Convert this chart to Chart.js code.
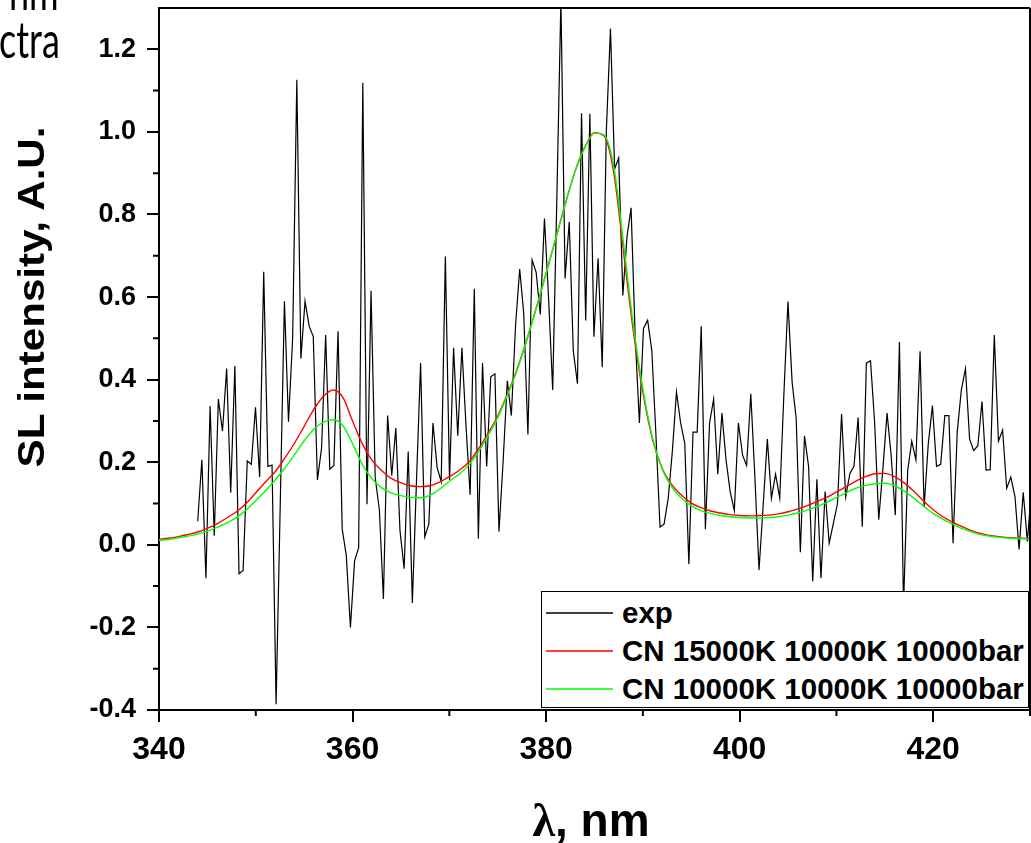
<!DOCTYPE html>
<html><head><meta charset="utf-8">
<script src="https://cdn.jsdelivr.net/npm/chart.js@4.4.1/dist/chart.umd.min.js"></script>
<style>
html,body{margin:0;padding:0;background:#fff;}
#wrap{position:relative;width:1031px;height:843px;overflow:hidden;background:#fff;}
#c{position:absolute;left:0;top:0;}
.t{position:absolute;white-space:nowrap;color:#000;line-height:1;}
.b{font-family:"Liberation Sans",Arial,sans-serif;font-weight:bold;}
#ytitle{left:32px;top:297px;font-size:36px;transform:translate(-50%,-50%) rotate(-90deg) scaleX(1.17);}
#xtitle{left:591px;top:820px;font-size:46px;transform:translate(-50%,-50%);}
#xtitle .lam{font-family:"Liberation Serif","DejaVu Serif",serif;font-weight:bold;}
.side{font-family:Lato,"Open Sans",sans-serif;font-size:50px;transform-origin:0 0;transform:scaleX(0.72);}
#legend{position:absolute;left:541px;top:591px;width:488px;height:117px;border:1px solid #000;background:#fff;box-sizing:border-box;}
#legend svg{position:absolute;left:0;top:0;}
.tx{position:absolute;left:80px;font-size:29.5px;font-family:"Liberation Sans",Arial,sans-serif;font-weight:bold;line-height:1;transform:translateY(-52%);white-space:nowrap;}
</style></head><body>
<div id="wrap">
<canvas id="c" width="1031" height="843"></canvas>
<div class="t side" style="left:9px;top:-34px;">nm</div>
<div class="t side" style="left:-1px;top:14px;">ctra</div>
<div id="ytitle" class="t b">SL intensity, A.U.</div>
<div id="xtitle" class="t b"><span class="lam">λ</span>, nm</div>
<div id="legend"></div>
</div>
<script>
// ---- data ----
const expX = [344.00,344.43,344.85,345.28,345.71,346.13,346.56,346.99,347.41,347.84,348.27,348.69,349.12,349.54,349.97,350.40,350.82,351.25,351.68,352.10,352.53,352.96,353.38,353.81,354.24,354.66,355.09,355.52,355.94,356.37,356.80,357.22,357.65,358.07,358.50,358.93,359.35,359.78,360.21,360.63,361.06,361.49,361.91,362.34,362.77,363.19,363.62,364.05,364.47,364.90,365.33,365.75,366.18,366.60,367.03,367.46,367.88,368.31,368.74,369.16,369.59,370.02,370.44,370.87,371.30,371.72,372.15,372.58,373.00,373.43,373.86,374.28,374.71,375.13,375.56,375.99,376.41,376.84,377.27,377.69,378.12,378.55,378.97,379.40,379.83,380.25,380.68,381.11,381.53,381.96,382.39,382.81,383.24,383.66,384.09,384.52,384.94,385.37,385.80,386.22,386.65,387.08,387.50,387.93,388.36,388.78,389.21,389.64,390.06,390.49,390.92,391.34,391.77,392.19,392.62,393.05,393.47,393.90,394.33,394.75,395.18,395.61,396.03,396.46,396.89,397.31,397.74,398.17,398.59,399.02,399.45,399.87,400.30,400.72,401.15,401.58,402.00,402.43,402.86,403.28,403.71,404.14,404.56,404.99,405.42,405.84,406.27,406.70,407.12,407.55,407.98,408.40,408.83,409.25,409.68,410.11,410.53,410.96,411.39,411.81,412.24,412.67,413.09,413.52,413.95,414.37,414.80,415.23,415.65,416.08,416.51,416.93,417.36,417.78,418.21,418.64,419.06,419.49,419.92,420.34,420.77,421.20,421.62,422.05,422.48,422.90,423.33,423.76,424.18,424.61,425.04,425.46,425.89,426.31,426.74,427.17,427.59,428.02,428.45,428.87,429.30,429.73,430.15];
const expY = [0.057,0.206,-0.081,0.336,0.022,0.353,0.275,0.427,0.126,0.433,-0.070,-0.062,0.203,0.195,0.333,0.164,0.661,0.190,0.193,-0.386,0.100,0.590,0.298,0.500,1.126,0.451,0.590,0.529,0.505,0.157,0.234,0.508,0.183,0.192,0.517,0.038,-0.025,-0.200,-0.039,-0.007,1.119,0.098,0.615,0.163,0.085,-0.131,0.313,0.168,0.283,0.035,-0.058,0.226,-0.141,0.150,0.440,0.019,0.050,0.295,0.187,0.153,0.698,0.157,0.477,0.264,0.477,0.289,0.121,0.620,0.015,0.440,0.190,0.407,0.414,0.032,0.203,0.397,0.313,0.530,0.668,0.560,0.267,0.690,0.660,0.558,0.790,0.600,0.375,0.840,1.320,0.645,0.782,0.469,0.390,1.045,0.543,1.044,0.504,0.694,0.430,1.000,1.250,0.910,0.937,0.604,0.747,0.816,0.500,0.295,0.524,0.544,0.471,0.270,0.043,0.050,0.113,0.228,0.370,0.295,0.245,-0.047,0.273,0.273,0.529,0.038,0.295,0.353,0.171,0.319,0.206,0.129,0.083,0.295,0.217,0.192,0.366,0.160,-0.061,0.096,0.256,0.113,0.171,0.113,0.360,0.589,0.394,0.306,-0.018,0.264,0.190,-0.088,0.159,-0.081,0.129,0.004,0.052,0.100,0.317,0.116,0.173,0.190,0.308,0.044,0.440,0.446,0.295,0.061,0.184,0.319,0.217,0.072,0.491,-0.150,0.179,0.251,0.206,0.469,0.091,0.245,0.337,0.190,0.195,0.313,0.313,0.004,0.273,0.374,0.427,0.256,0.228,0.240,0.347,0.181,0.182,0.508,0.251,0.278,0.137,0.164,0.116,-0.011,0.127,0.008,0.135];
const modelX = [340,341,342,343,344,345,346,347,348,349,350,351,352,353,354,355,356,357,358,359,360,361,362,363,364,365,366,367,368,369,370,371,372,373,374,375,376,377,378,379,380,381,382,383,384,385,386,387,388,389,390,391,392,393,394,395,396,397,398,399,400,401,402,403,404,405,406,407,408,409,410,411,412,413,414,415,416,417,418,419,420,421,422,423,424,425,426,427,428,429,430];
const redY = [0.013,0.016,0.020,0.025,0.031,0.040,0.051,0.065,0.080,0.100,0.126,0.152,0.177,0.210,0.246,0.287,0.328,0.360,0.375,0.357,0.300,0.245,0.205,0.180,0.161,0.150,0.143,0.141,0.143,0.152,0.165,0.180,0.200,0.232,0.270,0.312,0.365,0.425,0.497,0.575,0.658,0.742,0.827,0.905,0.963,0.998,0.990,0.900,0.710,0.520,0.370,0.255,0.185,0.145,0.120,0.101,0.090,0.082,0.077,0.073,0.071,0.070,0.071,0.072,0.075,0.080,0.087,0.095,0.105,0.115,0.128,0.141,0.154,0.165,0.172,0.173,0.165,0.150,0.130,0.106,0.085,0.068,0.055,0.044,0.034,0.027,0.022,0.019,0.017,0.016,0.015];
const greenY = [0.011,0.013,0.017,0.021,0.026,0.033,0.042,0.053,0.066,0.084,0.107,0.131,0.157,0.186,0.218,0.252,0.280,0.297,0.303,0.289,0.245,0.195,0.160,0.138,0.126,0.119,0.115,0.114,0.120,0.135,0.154,0.171,0.193,0.225,0.265,0.308,0.362,0.423,0.495,0.574,0.657,0.742,0.827,0.905,0.962,0.997,0.992,0.915,0.730,0.535,0.378,0.258,0.183,0.140,0.113,0.095,0.083,0.076,0.071,0.068,0.066,0.065,0.065,0.066,0.068,0.072,0.077,0.084,0.093,0.103,0.115,0.126,0.137,0.144,0.148,0.149,0.143,0.130,0.113,0.094,0.076,0.062,0.050,0.039,0.031,0.024,0.020,0.018,0.016,0.015,0.014];
const seriesLabels = ["exp","CN 15000K 10000K 10000bar","CN 10000K 10000K 10000bar"];
const seriesColors = ["#000000","#ff0000","#00ff00"];
const xMajorTicks = [340,360,380,400,420];
const xMinorTicks = [350,370,390,410,430];
const yMajorTicks = [-0.4,-0.2,0.0,0.2,0.4,0.6,0.8,1.0,1.2];
const yMinorTicks = [-0.3,-0.1,0.1,0.3,0.5,0.7,0.9,1.1];

const pts = (xs, ys) => xs.map((x, i) => ({x: x, y: ys[i]}));

const frame = {
  id: 'frame',
  afterDraw(chart) {
    const {ctx, chartArea: a, scales: {x, y}} = chart;
    ctx.save();
    ctx.strokeStyle = '#000';
    ctx.lineWidth = 2;
    ctx.beginPath();
    ctx.moveTo(a.left - 1, a.top); ctx.lineTo(a.right, a.top);
    ctx.moveTo(a.right, a.top); ctx.lineTo(a.right, a.bottom);
    xMinorTicks.forEach(v => { const p = x.getPixelForValue(v); ctx.moveTo(p, a.bottom); ctx.lineTo(p, a.bottom + 6); });
    yMinorTicks.forEach(v => { const p = y.getPixelForValue(v); ctx.moveTo(a.left, p); ctx.lineTo(a.left - 6, p); });
    ctx.stroke();
    ctx.restore();
  }
};

function noPad(s) { s.paddingTop = 0; s.paddingBottom = 0; s.paddingLeft = 0; s.paddingRight = 0; }

const chart = new Chart(document.getElementById('c'), {
  type: 'line',
  data: {
    datasets: [
      {label: seriesLabels[0], data: pts(expX, expY), borderColor: seriesColors[0], borderWidth: 1.2, pointRadius: 0, tension: 0, order: 2},
      {label: seriesLabels[1], data: pts(modelX, redY), borderColor: seriesColors[1], borderWidth: 1.4, pointRadius: 0, cubicInterpolationMode: 'monotone', order: 1},
      {label: seriesLabels[2], data: pts(modelX, greenY), borderColor: seriesColors[2], borderWidth: 1.4, pointRadius: 0, cubicInterpolationMode: 'monotone', order: 0}
    ]
  },
  options: {
    responsive: false,
    animation: false,
    events: [],
    layout: {padding: {top: 8, right: 1, left: 0, bottom: 0}},
    plugins: {legend: {display: false}, tooltip: {enabled: false}},
    scales: {
      x: {
        type: 'linear', min: 340, max: 430,
        afterFit(s) { s.height = 133; noPad(s); },
        afterBuildTicks(s) { s.ticks = xMajorTicks.map(v => ({value: v})); },
        border: {display: true, color: '#000', width: 2},
        grid: {drawOnChartArea: false, drawTicks: true, tickLength: 12, color: '#000', lineWidth: 2},
        ticks: {color: '#000', padding: 9, maxRotation: 0, font: {family: '"Liberation Sans", Arial, sans-serif', size: 32, weight: 'bold'}, callback: v => String(v)}
      },
      y: {
        type: 'linear', min: -0.4, max: 1.3,
        afterFit(s) { s.width = 159; noPad(s); },
        afterBuildTicks(s) { s.ticks = yMajorTicks.map(v => ({value: v})); },
        border: {display: true, color: '#000', width: 2},
        grid: {drawOnChartArea: false, drawTicks: true, tickLength: 12, color: '#000', lineWidth: 2},
        ticks: {color: '#000', padding: 11, font: {family: '"Liberation Sans", Arial, sans-serif', size: 27, weight: 'bold'}, callback: v => Number(v).toFixed(1)}
      }
    }
  },
  plugins: [frame]
});

// legend built from the chart's datasets
const lg = document.getElementById('legend');
const NS = 'http://www.w3.org/2000/svg';
const svg = document.createElementNS(NS, 'svg');
svg.setAttribute('width', '80'); svg.setAttribute('height', '115');
lg.appendChild(svg);
chart.data.datasets.forEach((ds, i) => {
  const yy = 21 + i * 38;
  const ln = document.createElementNS(NS, 'line');
  ln.setAttribute('x1', '4'); ln.setAttribute('x2', '71');
  ln.setAttribute('y1', String(yy)); ln.setAttribute('y2', String(yy));
  ln.setAttribute('stroke', seriesColors[i]);
  ln.setAttribute('stroke-width', '1.5');
  svg.appendChild(ln);
  const tx = document.createElement('div');
  tx.className = 'tx';
  tx.style.top = yy + 'px';
  tx.textContent = ds.label;
  lg.appendChild(tx);
});
</script>
</body></html>
